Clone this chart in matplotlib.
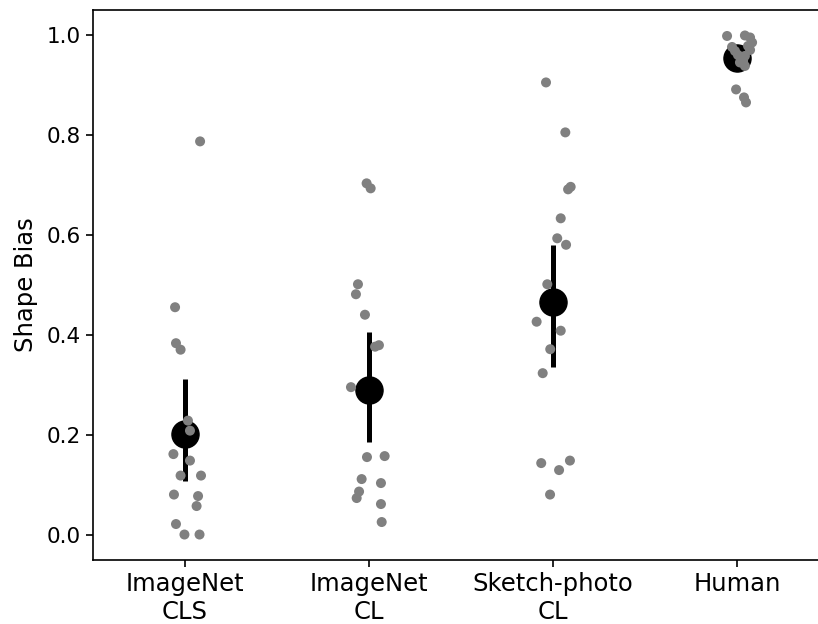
import matplotlib
matplotlib.use("Agg")
import matplotlib.pyplot as plt
import numpy as np

categories = ["ImageNet\nCLS", "ImageNet\nCL", "Sketch-photo\nCL", "Human"]

cls_vals = [0.787, 0.455, 0.383, 0.370, 0.228, 0.208, 0.161, 0.148, 0.118, 0.118,
            0.080, 0.077, 0.057, 0.021, 0.0, 0.0]
cls_jit = [0.082, -0.054, -0.049, -0.024, 0.016, 0.027, -0.063, 0.027, -0.024, 0.087,
           -0.060, 0.071, 0.063, -0.049, -0.003, 0.079]

cl_vals = [0.703, 0.693, 0.501, 0.481, 0.440, 0.376, 0.379, 0.295, 0.155, 0.157,
           0.111, 0.103, 0.086, 0.073, 0.061, 0.025]
cl_jit = [-0.013, 0.009, -0.060, -0.071, -0.022, 0.033, 0.054, -0.098, -0.011, 0.085,
          -0.040, 0.065, -0.054, -0.067, 0.065, 0.069]

sketch_vals = [0.905, 0.805, 0.691, 0.696, 0.633, 0.593, 0.580, 0.501, 0.426, 0.408,
               0.371, 0.323, 0.143, 0.148, 0.129, 0.080]
sketch_jit = [-0.038, 0.067, 0.082, 0.096, 0.042, 0.023, 0.071, -0.031, -0.089, 0.042,
              -0.015, -0.056, -0.064, 0.092, 0.033, -0.016]

human_vals = [0.998, 0.999, 0.995, 0.985, 0.978, 0.976, 0.968, 0.970, 0.958, 0.948,
              0.938, 0.945, 0.960, 0.891, 0.875, 0.865]
human_jit = [-0.054, 0.043, 0.071, 0.082, 0.060, -0.027, -0.011, 0.071, 0.043, 0.033,
             0.043, 0.016, 0.005, -0.005, 0.038, 0.049]

ci_low = [0.108, 0.185, 0.336, 0.930]
ci_high = [0.311, 0.406, 0.580, 0.975]

groups = [cls_vals, cl_vals, sketch_vals, human_vals]
jitters = [cls_jit, cl_jit, sketch_jit, human_jit]

fig = plt.figure(figsize=(8.18, 6.24), dpi=100)
ax = fig.add_axes([93/818, (624-559.5)/624, 736/818, (559.5-10)/624])

xs = np.arange(len(categories))
means = [np.mean(g) for g in groups]

# error bars and means
for i in xs:
    ax.plot([i, i], [ci_low[i], ci_high[i]], color="black", lw=3.6, solid_capstyle="butt", zorder=2)
ax.plot(xs, means, linestyle="none", marker="o", markersize=19.5, color="black", zorder=3)

# individual points
for i, (g, j) in enumerate(zip(groups, jitters)):
    ax.scatter(i + np.array(j), g, s=7.2**2, color="#808080", edgecolors="none", zorder=4)

ax.set_xlim(-0.5, 3.5)
ax.set_ylim(-0.05, 1.05)
ax.set_xticks(xs)
ax.set_xticklabels(categories, fontsize=17.5)
ax.set_yticks([0.0, 0.2, 0.4, 0.6, 0.8, 1.0])
ax.set_yticklabels(["0.0", "0.2", "0.4", "0.6", "0.8", "1.0"], fontsize=15.5)
ax.set_ylabel("Shape Bias", fontsize=17.5, labelpad=6)
ax.tick_params(length=5, width=1.2, pad=4)
for s in ax.spines.values():
    s.set_linewidth(1.2)

fig.savefig("out.png", dpi=100)
